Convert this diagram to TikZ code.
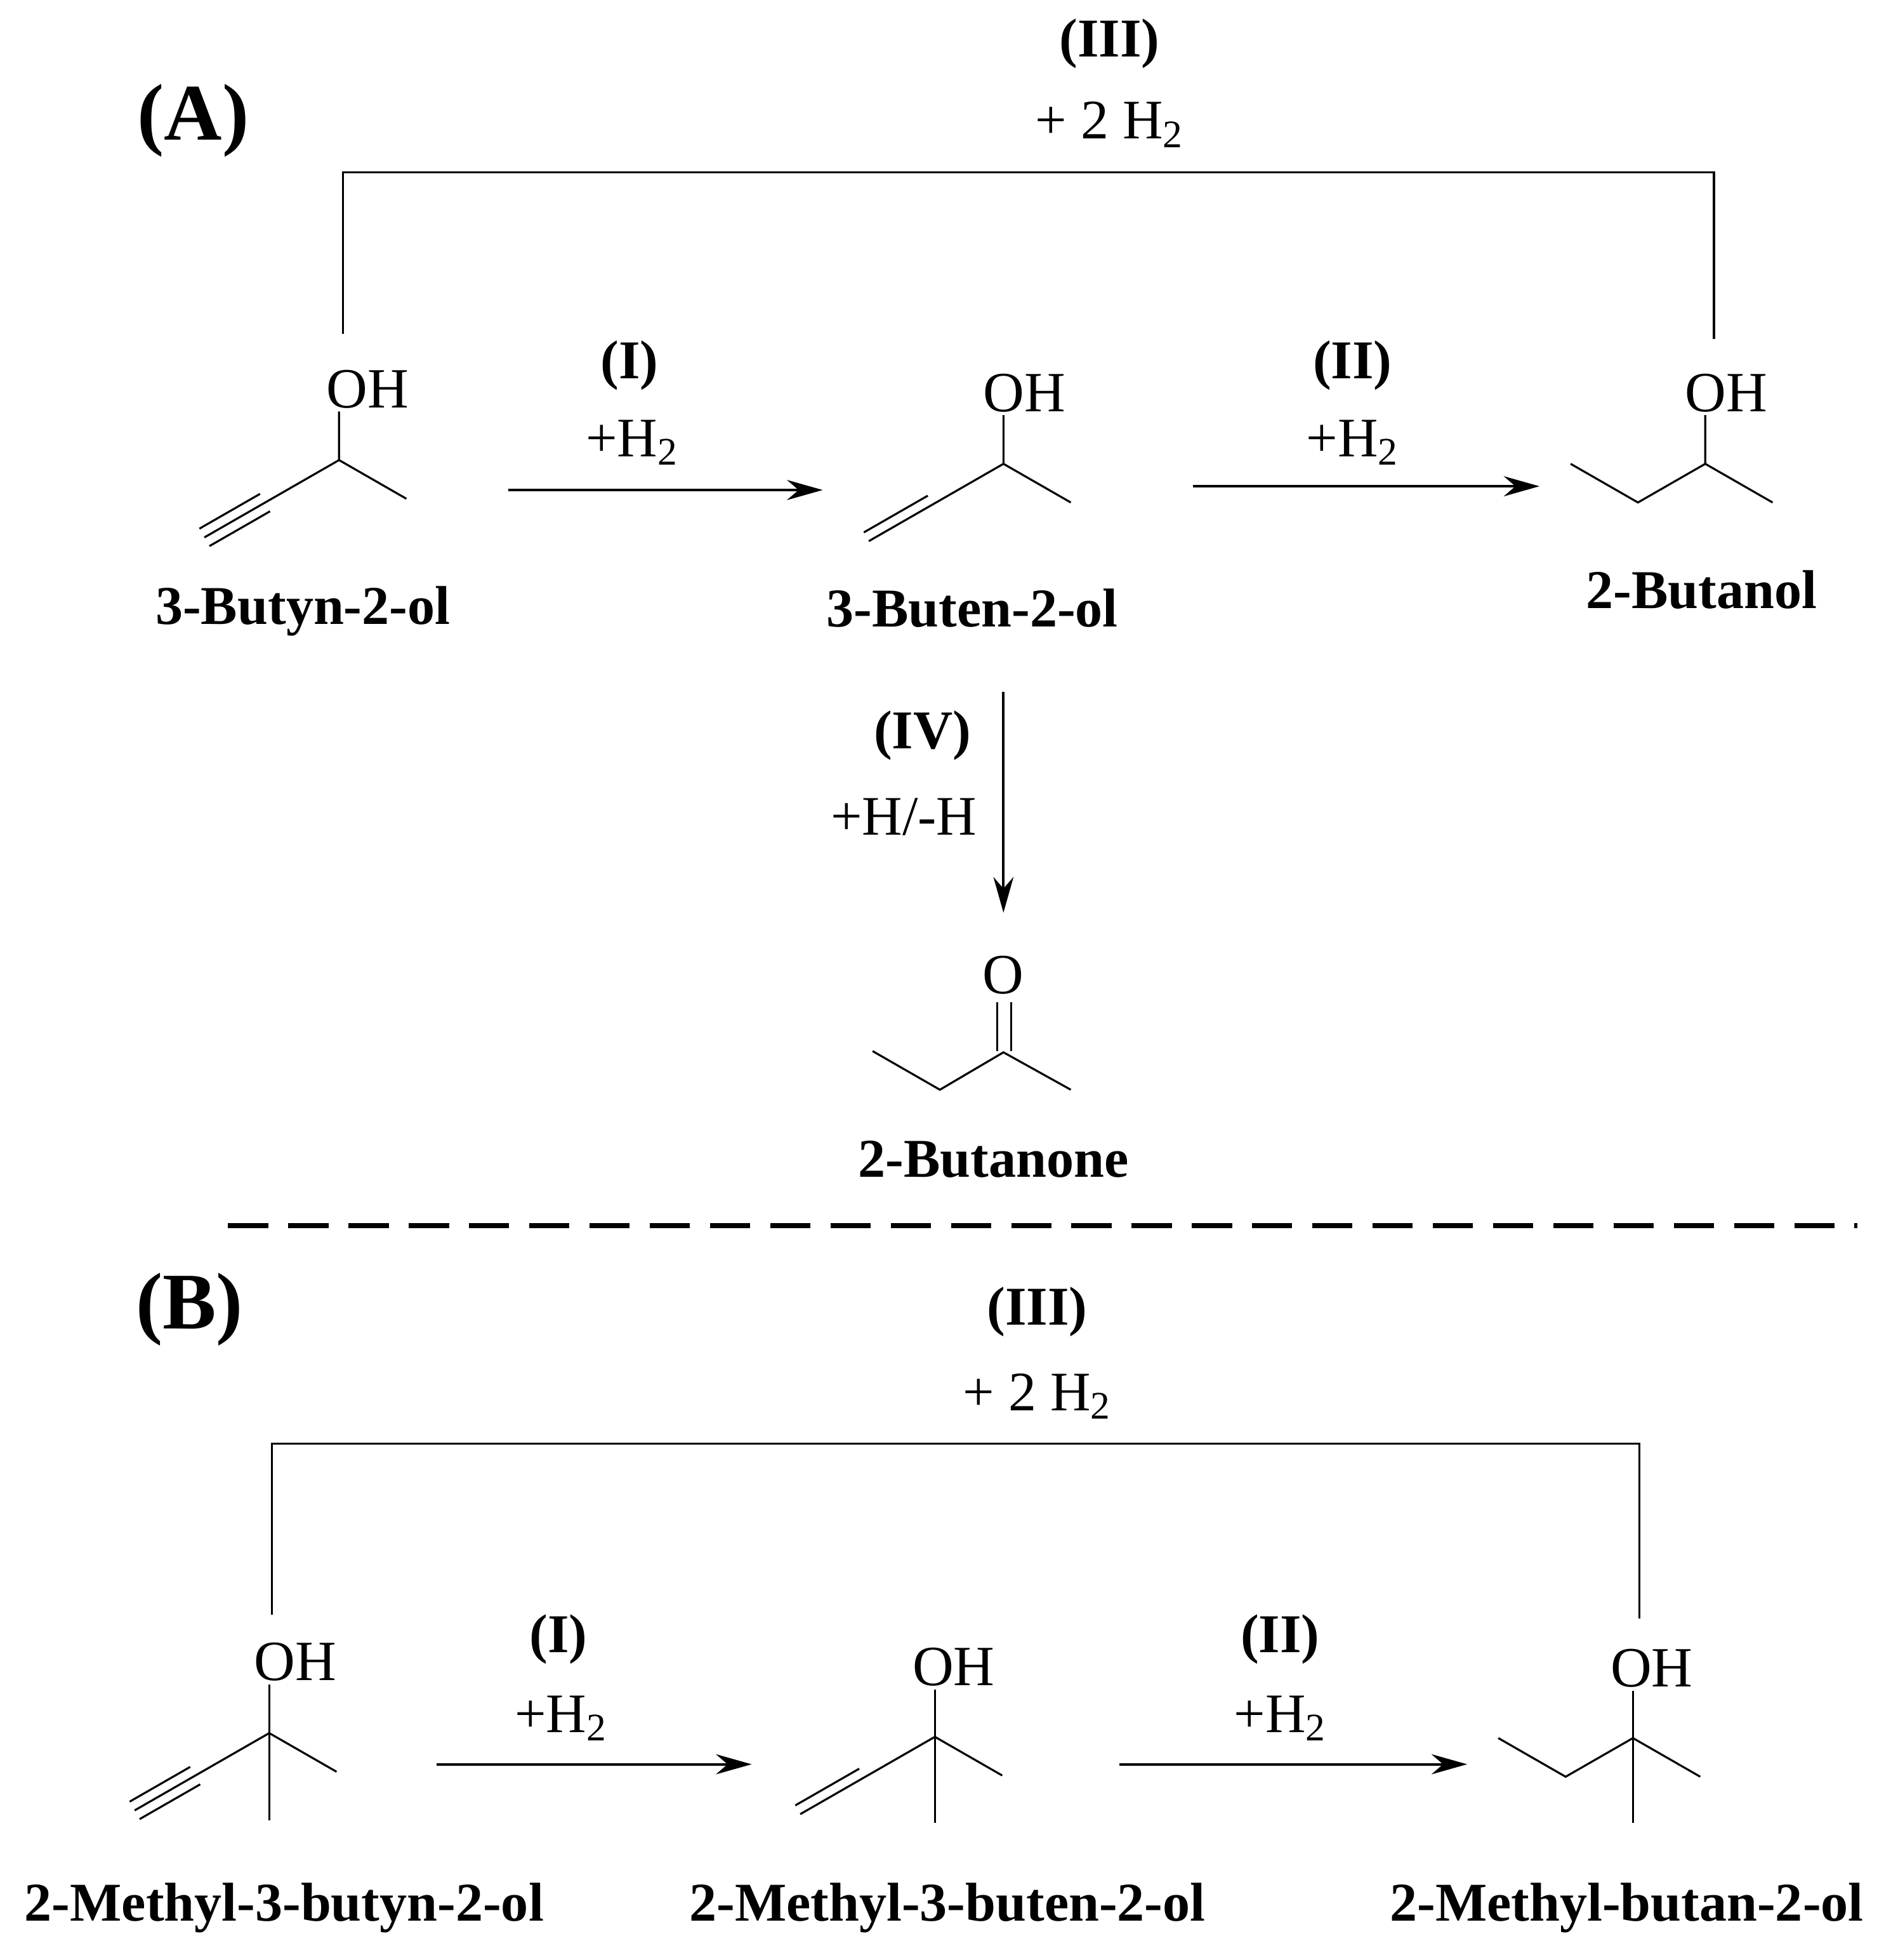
\documentclass[tikz,border=0pt]{standalone}
\usepackage{fontspec}
\setmainfont{Liberation Serif}
\usetikzlibrary{arrows.meta,calc}
\begin{document}
\begin{tikzpicture}[x=0.01964cm,y=-0.01964cm,
  bond/.style={line width=0.9pt},
  rxn/.style={line width=1.1pt,-{Stealth[length=16pt,width=9pt]}},
  brk/.style={line width=0.9pt},
  lab/.style={font=\fontsize{24.5}{28}\selectfont\bfseries,inner sep=0pt},
  cond/.style={font=\fontsize{25}{28}\selectfont,inner sep=0pt},
  atom/.style={font=\fontsize{25.5}{28}\selectfont,inner sep=0pt},
  big/.style={font=\fontsize{36}{40}\selectfont\bfseries,inner sep=0pt}]
\useasboundingbox (0,0) rectangle (1517,1572);
% ---------- (A) ----------
\node[big] (A) at (155,97) {(A)};
\node[lab] (t3a) at (890,35) {(III)};
\node[cond] (c3a) at (890,100) {+ 2 H\textsubscript{2}};
\coordinate (bl1) at (275,268); \coordinate (bl2) at (275,138);
\coordinate (br2) at (1375,138); \coordinate (br1) at (1375,272);
\draw[brk] (bl1) -- (bl2) -- (br2) -- (br1);
% butynol
\node[atom] (oh1) at (295,312) {OH};
\coordinate (a1c) at (272,369); \coordinate (a1t) at (272,330);
\coordinate (a1m) at (326,400); \coordinate (a1c3) at (218,400); \coordinate (a1c4) at (164,431);
\draw[bond] (a1t) -- (a1c) -- (a1m);
\draw[bond] (a1c) -- (a1c3) -- (a1c4);
\draw[bond] ($(a1c3)!0.1!(a1c4)+(-4,-7)$) -- ($(a1c4)+(-4,-7)$);
\draw[bond] ($(a1c3)!0.1!(a1c4)+(4,7)$) -- ($(a1c4)+(4,7)$);
\node[lab] (n1) at (243,490) {3-Butyn-2-ol};
% arrow I
\coordinate (r1s) at (408,393); \coordinate (r1e) at (660,393);
\draw[rxn] (r1s) -- (r1e);
\node[lab] (i1) at (505,293) {(I)};
\node[cond] (h1) at (507,355) {+H\textsubscript{2}};
% butenol
\node[atom] (oh2) at (822,315) {OH};
\coordinate (a2c) at (805,372); \coordinate (a2t) at (805,333);
\coordinate (a2m) at (859,403); \coordinate (a2c3) at (751,403); \coordinate (a2c4) at (697,434);
\draw[bond] (a2t) -- (a2c) -- (a2m);
\draw[bond] (a2c) -- (a2c3) -- (a2c4);
\draw[bond] ($(a2c3)!0.05!(a2c4)+(-4,-7)$) -- ($(a2c4)+(-4,-7)$);
\node[lab] (n2) at (780,488) {3-Buten-2-ol};
% arrow II
\coordinate (r2s) at (957,390); \coordinate (r2e) at (1235,390);
\draw[rxn] (r2s) -- (r2e);
\node[lab] (i2) at (1085,293) {(II)};
\node[cond] (h2) at (1085,355) {+H\textsubscript{2}};
% butanol
\node[atom] (oh3) at (1385,315) {OH};
\coordinate (a3c) at (1368,372); \coordinate (a3t) at (1368,333);
\coordinate (a3m) at (1422,403); \coordinate (a3c3) at (1314,403); \coordinate (a3c4) at (1260,372);
\draw[bond] (a3t) -- (a3c) -- (a3m);
\draw[bond] (a3c) -- (a3c3) -- (a3c4);
\node[lab] (n3) at (1365,473) {2-Butanol};
% arrow IV
\coordinate (r4s) at (805,555); \coordinate (r4e) at (805,732);
\draw[rxn] (r4s) -- (r4e);
\node[lab] (i4) at (740,590) {(IV)};
\node[cond] (h4) at (725,655) {+H/-H};
% butanone
\node[atom] (o4) at (805,782) {O};
\coordinate (k1) at (700,843); \coordinate (k2) at (754,874);
\coordinate (kc) at (805,844); \coordinate (k4) at (859,874);
\draw[bond] (k1) -- (k2) -- (kc) -- (k4);
\draw[bond] (800,804) -- (800,843);
\draw[bond] (811,804) -- (811,843);
\node[lab] (n4) at (797,930) {2-Butanone};
% separator
\coordinate (d1) at (183,983); \coordinate (d2) at (1490,983);
\draw[line width=2.2pt,dash pattern=on 18pt off 9pt] (d1) -- (d2);
% ---------- (B) ----------
\node[big] (B) at (152,1050) {(B)};
\node[lab] (t3b) at (832,1052) {(III)};
\node[cond] (c3b) at (832,1120) {+ 2 H\textsubscript{2}};
\coordinate (cl1) at (218,1295); \coordinate (cl2) at (218,1158);
\coordinate (cr2) at (1315,1158); \coordinate (cr1) at (1315,1298);
\draw[brk] (cl1) -- (cl2) -- (cr2) -- (cr1);
% mol 1
\node[atom] (ohb1) at (237,1333) {OH};
\coordinate (b1c) at (216,1390); \coordinate (b1t) at (216,1351);
\coordinate (b1d) at (216,1460);
\coordinate (b1m) at (270,1421); \coordinate (b1c3) at (162,1421); \coordinate (b1c4) at (108,1452);
\draw[bond] (b1t) -- (b1d);
\draw[bond] (b1c) -- (b1m);
\draw[bond] (b1c) -- (b1c3) -- (b1c4);
\draw[bond] ($(b1c3)!0.1!(b1c4)+(-4,-7)$) -- ($(b1c4)+(-4,-7)$);
\draw[bond] ($(b1c3)!0.1!(b1c4)+(4,7)$) -- ($(b1c4)+(4,7)$);
\node[lab] (m1) at (228,1530) {2-Methyl-3-butyn-2-ol};
% arrow I
\coordinate (s1s) at (350,1415); \coordinate (s1e) at (603,1415);
\draw[rxn] (s1s) -- (s1e);
\node[lab] (bi1) at (448,1315) {(I)};
\node[cond] (bh1) at (450,1378) {+H\textsubscript{2}};
% mol 2
\node[atom] (ohb2) at (765,1337) {OH};
\coordinate (b2c) at (750,1393); \coordinate (b2t) at (750,1355);
\coordinate (b2d) at (750,1462);
\coordinate (b2m) at (804,1424); \coordinate (b2c3) at (696,1424); \coordinate (b2c4) at (642,1455);
\draw[bond] (b2t) -- (b2d);
\draw[bond] (b2c) -- (b2m);
\draw[bond] (b2c) -- (b2c3) -- (b2c4);
\draw[bond] ($(b2c3)!0.05!(b2c4)+(-4,-7)$) -- ($(b2c4)+(-4,-7)$);
\node[lab] (m2) at (760,1530) {2-Methyl-3-buten-2-ol};
% arrow II
\coordinate (s2s) at (898,1415); \coordinate (s2e) at (1177,1415);
\draw[rxn] (s2s) -- (s2e);
\node[lab] (bi2) at (1027,1315) {(II)};
\node[cond] (bh2) at (1027,1378) {+H\textsubscript{2}};
% mol 3
\node[atom] (ohb3) at (1325,1338) {OH};
\coordinate (b3c) at (1310,1394); \coordinate (b3t) at (1310,1356);
\coordinate (b3d) at (1310,1462);
\coordinate (b3m) at (1364,1425); \coordinate (b3c3) at (1256,1425); \coordinate (b3c4) at (1202,1394);
\draw[bond] (b3t) -- (b3d);
\draw[bond] (b3c) -- (b3m);
\draw[bond] (b3c) -- (b3c3) -- (b3c4);
\node[lab] (m3) at (1305,1530) {2-Methyl-butan-2-ol};
\end{tikzpicture}
\end{document}
